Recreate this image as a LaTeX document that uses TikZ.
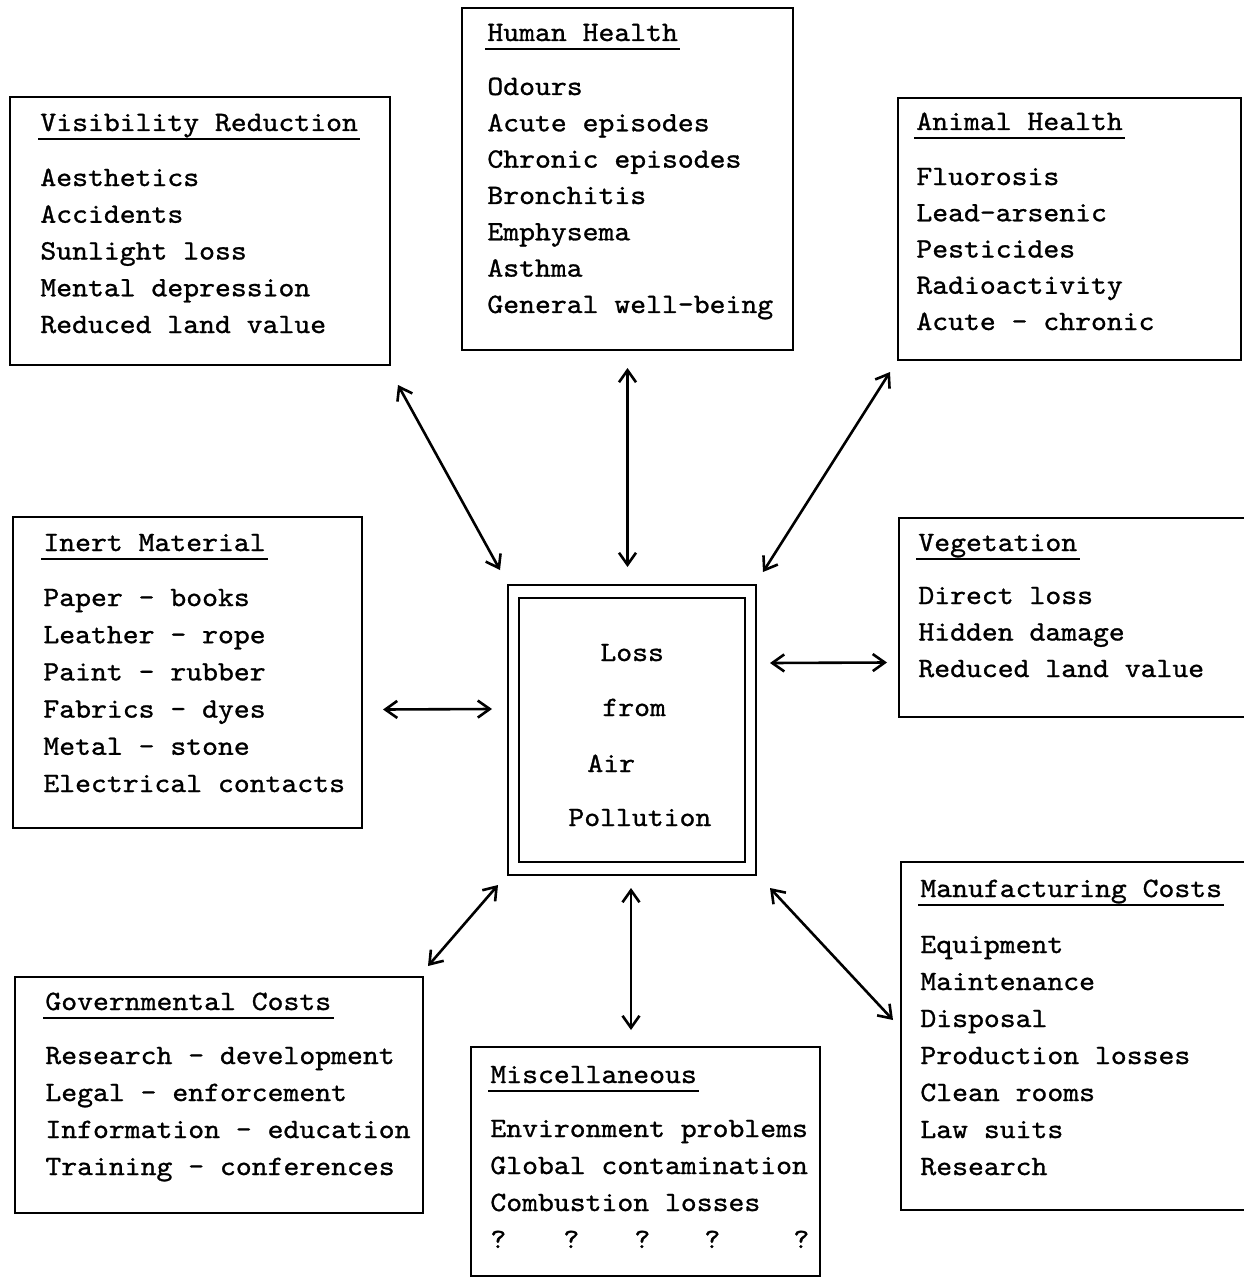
\documentclass[tikz,border=0pt]{standalone}
\usepackage{fontspec}
\newfontfamily\typewriter{lmmono10-regular.otf}[FakeStretch=1.08,FakeBold=1]
\usetikzlibrary{arrows.meta,calc,fit}

\begin{document}
\begin{tikzpicture}[x=0.5pt,y=-0.5pt,
  frame/.style={draw,line width=1.3pt,inner sep=0pt,outer sep=0pt},
  txt/.style={anchor=base west,inner sep=0pt,font=\typewriter\fontsize{14}{16}\selectfont},
  uline/.style={line width=1pt},
  link/.style={line width=1.3pt,
    {Straight Barb[length=6pt,width=8.5pt]}-{Straight Barb[length=6pt,width=8.5pt]}},
]
\useasboundingbox (0,0) rectangle (1243,1279);

% frames of the eight categories and the central box
\node[frame,fit={(10,97) (390,365)}]    (vis)  {};
\node[frame,fit={(462,8) (793,350)}]    (hh)   {};
\node[frame,fit={(898,98) (1241,360)}]  (ah)   {};
\node[frame,fit={(13,517) (362,828)}]   (im)   {};
\node[frame,fit={(899,518) (1252,717)}] (veg)  {};
\node[frame,fit={(901,862) (1252,1210)}](mc)   {};
\node[frame,fit={(15,977) (423,1213)}]  (gov)  {};
\node[frame,fit={(471,1047) (820,1276)}](misc) {};
\node[frame,fit={(508,585) (756,875)}]  (ctr)  {};
\node[frame,fit={(519,598) (745,862)}]  (ctrin){};

% centre text
\node[txt] (c1) at (600,661) {Loss};
\node[txt] (c2) at (602,716) {from};
\node[txt] (c3) at (587,772) {Air};
\node[txt] (c4) at (568,826) {Pollution};

% underlined headings
\foreach \nm/\x/\y/\ttl in {
  vis/40/131/Visibility Reduction,
  hh/487/41/Human Health,
  ah/916/130/Animal Health,
  im/43/551/Inert Material,
  veg/918/551/Vegetation,
  mc/920/897/Manufacturing Costs,
  gov/45/1010/Governmental Costs,
  misc/490/1083/Miscellaneous}{
  \node[txt] (\nm-t) at (\x,\y) {\ttl};
  \draw[uline] ($(\nm-t.base west)+(-2,8)$) -- ($(\nm-t.base east)+(2,8)$);
}

% item lists
\foreach \t [count=\i from 0] in {Aesthetics,Accidents,Sunlight loss,Mental depression,Reduced land value}
  \node[txt] at (40,{186+36.75*\i}) {\t};
\foreach \t [count=\i from 0] in {Odours,Acute episodes,Chronic episodes,Bronchitis,Emphysema,Asthma,General well-being}
  \node[txt] at (487,{95+36.33*\i}) {\t};
\foreach \t [count=\i from 0] in {Fluorosis,Lead-arsenic,Pesticides,Radioactivity,Acute - chronic}
  \node[txt] at (916,{185+36.25*\i}) {\t};
\foreach \t [count=\i from 0] in {Paper - books,Leather - rope,Paint - rubber,Fabrics - dyes,Metal - stone,Electrical contacts}
  \node[txt] at (43,{606+37.2*\i}) {\t};
\foreach \t [count=\i from 0] in {Direct loss,Hidden damage,Reduced land value}
  \node[txt] at (918,{604+36.5*\i}) {\t};
\foreach \t [count=\i from 0] in {Equipment,Maintenance,Disposal,Production losses,Clean rooms,Law suits,Research}
  \node[txt] at (920,{953+37*\i}) {\t};
\foreach \t [count=\i from 0] in {Research - development,Legal - enforcement,Information - education,Training - conferences}
  \node[txt] at (45,{1064+37*\i}) {\t};
\foreach \t [count=\i from 0] in {Environment problems,Global contamination,Combustion losses}
  \node[txt] at (490,{1137+37*\i}) {\t};
\foreach \x in {490,563,634,704,793}
  \node[txt] at (\x,1248) {?};

% two-way links between the centre and each category
\draw[link] ($(vis.south east)+(8,20)$) -- ($(ctr.north west)+(-8,-15)$);
\draw[link] ($(hh.south)+(0,18)$) -- ($(hh.south |- ctr.north)+(0,-18)$);
\draw[link] ($(ah.south west)+(-8,12)$) -- ($(ctr.north east)+(7,-13)$);
\draw[link] ($(im.east)+(21,37)$) -- ($(ctr.west)+(-16,-21)$);
\draw[link] ($(ctr.east)+(14,-67)$) -- ($(veg.west)+(-12,45)$);
\draw[link] ($(ctr.south west)+(-10,10)$) -- ($(gov.north east)+(5,-11)$);
\draw[link] ($(ctr.south)+(-1,13)$) -- ($(misc.north)+(-14.5,-17)$);
\draw[link] ($(ctr.south east)+(14,13)$) -- ($(mc.west)+(-8,-16)$);
\end{tikzpicture}
\end{document}
